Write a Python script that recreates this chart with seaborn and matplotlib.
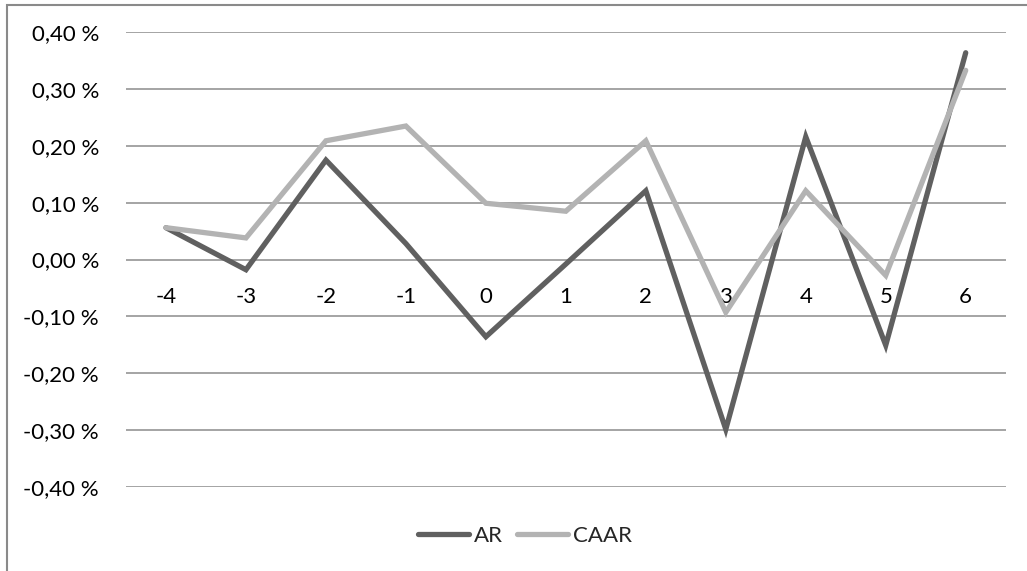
import matplotlib
matplotlib.use("Agg")
import matplotlib.pyplot as plt
from matplotlib.patches import Rectangle
from matplotlib.ticker import FuncFormatter
import numpy as np
import pandas as pd
import seaborn as sns

# Event window (days relative to the event)
event_days = [-4, -3, -2, -1, 0, 1, 2, 3, 4, 5, 6]
# Abnormal returns, in percent
ar_values = [0.056, -0.018, 0.175, 0.028, -0.136, -0.008, 0.121, -0.299, 0.216, -0.151, 0.364]
# Cumulative average abnormal returns, in percent
caar_values = [0.056, 0.038, 0.209, 0.235, 0.099, 0.085, 0.209, -0.093, 0.121, -0.028, 0.333]
series_names = ["AR", "CAAR"]
y_ticks = [-0.40, -0.30, -0.20, -0.10, 0.00, 0.10, 0.20, 0.30, 0.40]

df = pd.DataFrame({
    "day": event_days * 2,
    "value": ar_values + caar_values,
    "series": [series_names[0]] * len(event_days) + [series_names[1]] * len(event_days),
})

sns.set_theme(style="white")
plt.rcParams["font.family"] = ["Lato", "DejaVu Sans"]

FS = 16

fig = plt.figure(figsize=(10.27, 5.71), dpi=100)
ax = fig.add_axes([126 / 1027, 1 - 486.7 / 571, (1005.7 - 126) / 1027, (486.7 - 32.3) / 571])

palette = {"AR": "#606060", "CAAR": "#b3b3b3"}
sns.lineplot(data=df, x="day", y="value", hue="series", palette=palette,
             sort=False, linewidth=3.8, ax=ax, legend=False, zorder=3)
for line in ax.get_lines():
    line.set_solid_capstyle("round")
    line.set_solid_joinstyle("miter")

ax.set_xlim(event_days[0] - 0.5, event_days[-1] + 0.5)
ax.set_ylim(y_ticks[0], y_ticks[-1])
ax.set_yticks(y_ticks)
ax.yaxis.set_major_formatter(FuncFormatter(lambda v, _: f"{v:.2f} %".replace(".", ",")))
ax.set_xticks(event_days)
ax.set_xticklabels([str(d) for d in event_days])
ax.set_xlabel("")
ax.set_ylabel("")

ax.grid(axis="y", color="#8c8c8c", linewidth=1.1)
ax.grid(axis="x", visible=False)
ax.set_axisbelow(True)
for side in ["left", "right", "top", "bottom"]:
    ax.spines[side].set_visible(False)
ax.spines["bottom"].set_position(("data", 0))

ax.tick_params(axis="y", length=0, pad=19.5, labelsize=FS, labelcolor="black")
ax.tick_params(axis="x", length=0, pad=20, labelsize=FS, labelcolor="black")

handles = [plt.Line2D([], [], color=palette[n], linewidth=3.8, solid_capstyle="round") for n in series_names]
fig.legend(handles, series_names, loc="center", bbox_to_anchor=(525 / 1027, 1 - 536 / 571),
           ncol=2, frameon=False, fontsize=FS, handlelength=2.3, handletextpad=0.25,
           columnspacing=0.6)

# Chart area border
fig.add_artist(Rectangle((7 / 1027, -0.05), 1.1, 1 - 5 / 571 + 0.05, transform=fig.transFigure,
                         fill=False, edgecolor="#8a8a8a", linewidth=1.5))

fig.savefig("out.png", dpi=100, facecolor="white")
